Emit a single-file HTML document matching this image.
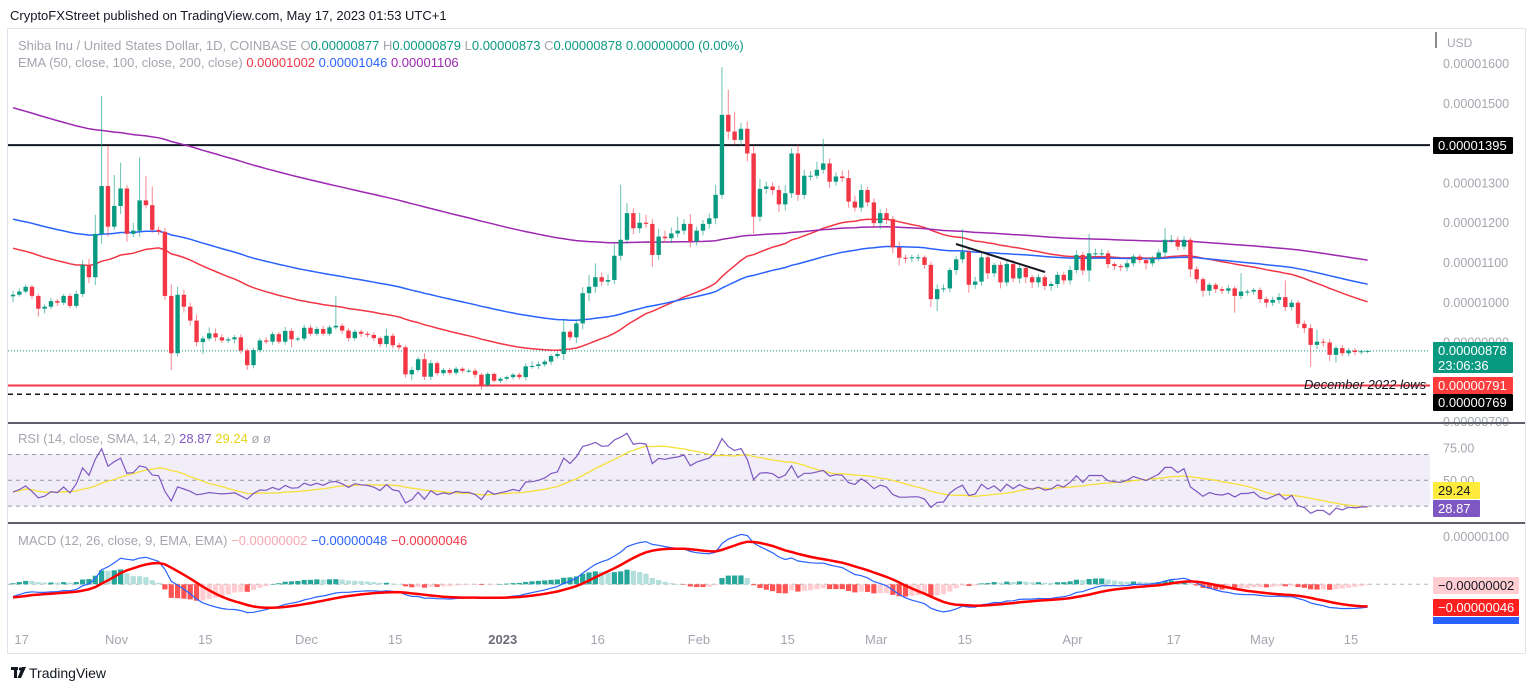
<!DOCTYPE html>
<html><head><meta charset="utf-8"><style>
html,body{margin:0;padding:0;background:#fff;}
svg{display:block;font-family:"Liberation Sans",sans-serif;}
</style></head><body>
<svg id="chart" width="1536" height="691" viewBox="0 0 1536 691" xmlns="http://www.w3.org/2000/svg">
<rect x="0" y="0" width="1536" height="691" fill="#ffffff"/>
<text x="10" y="20" font-size="13" fill="#131722">CryptoFXStreet published on TradingView.com, May 17, 2023 01:53 UTC+1</text>
<rect x="7.5" y="28.5" width="1518" height="625" fill="none" stroke="#e0e3eb"/>
<g id="rsiband"></g>
<g id="grid"></g>
<g id="ema"></g>
<g id="candles"></g>
<g id="rsi"></g>
<g id="macd"></g>
<g id="axis"></g>
<line x1="8" y1="423" x2="1525" y2="423" stroke="#5d606b" stroke-width="2"/>
<line x1="8" y1="523" x2="1525" y2="523" stroke="#5d606b" stroke-width="2"/>
<line x1="956" y1="244" x2="1045" y2="272" stroke="#131722" stroke-width="2"/>
<g font-size="13">
<text x="18" y="50"><tspan fill="#a3a6af">Shiba Inu / United States Dollar, 1D, COINBASE  O</tspan><tspan fill="#089981">0.00000877 </tspan><tspan fill="#a3a6af"> H</tspan><tspan fill="#089981">0.00000879 </tspan><tspan fill="#a3a6af"> L</tspan><tspan fill="#089981">0.00000873 </tspan><tspan fill="#a3a6af"> C</tspan><tspan fill="#089981">0.00000878  0.00000000 (0.00%)</tspan></text>
<text x="18" y="67"><tspan fill="#a3a6af">EMA (50, close, 100, close, 200, close) </tspan><tspan fill="#f23645">0.00001002 </tspan><tspan fill="#2962ff"> 0.00001046 </tspan><tspan fill="#9c27b0"> 0.00001106</tspan></text>
</g>
<text x="18" y="443" font-size="13"><tspan fill="#a3a6af">RSI (14, close, SMA, 14, 2) </tspan><tspan fill="#7e57c2">28.87 </tspan><tspan fill="#e6d21a"> 29.24 </tspan><tspan fill="#a3a6af"> ø  ø</tspan></text>
<text x="18" y="545" font-size="13"><tspan fill="#a3a6af">MACD (12, 26, close, 9, EMA, EMA) </tspan><tspan fill="#f7a8b0">−0.00000002 </tspan><tspan fill="#2962ff"> −0.00000048 </tspan><tspan fill="#f23645"> −0.00000046</tspan></text>
<line x1="1436" y1="32" x2="1436" y2="48" stroke="#131722"/>
<text x="1447" y="47" font-size="12" fill="#a3a6af">USD</text>
<text x="1304" y="389" font-size="13" font-style="italic" fill="#131722">December 2022 lows</text>
<g>
<rect x="11" y="667" width="7" height="3" fill="#131722"/><rect x="14" y="667" width="3" height="11" fill="#131722"/>
<circle cx="20.5" cy="669" r="1.6" fill="#131722"/><polygon points="22,667 26,667 21,678 17.5,678" fill="#131722"/>
<text x="29" y="678" font-size="14" fill="#131722">TradingView</text>
</g>
</svg>
<script>
const closes=[1019,1027,1039,1016,984,989,1003,999,1016,991,
1021,1094,1063,1172,1292,1190,1242,1286,1172,1180,
1256,1244,1182,1177,1016,872,1019,989,954,900,
909,922,912,904,907,912,879,842,880,904,
901,920,901,928,907,909,936,921,933,921,
937,941,929,910,926,921,918,910,895,916,
892,887,819,830,857,813,847,822,830,823,
833,828,828,818,792,820,803,808,812,818,
812,839,840,844,851,865,870,926,912,947,
1023,1039,1063,1052,1056,1117,1157,1224,1186,1200,
1197,1119,1165,1161,1173,1180,1197,1153,1180,1197,
1211,1270,1471,1429,1408,1436,1374,1215,1285,1291,
1282,1246,1274,1374,1270,1318,1318,1333,1349,1303,
1316,1312,1253,1238,1282,1251,1199,1224,1209,1138,
1112,1111,1113,1113,1094,1008,1033,1035,1081,1108,
1127,1044,1052,1113,1073,1094,1050,1096,1060,1086,
1063,1050,1063,1041,1046,1069,1055,1081,1119,1080,
1123,1123,1123,1096,1091,1088,1098,1115,1106,1098,
1111,1125,1157,1157,1140,1157,1083,1058,1029,1044,
1033,1029,1035,1016,1027,1027,1031,1008,999,1006,
1013,988,999,946,935,893,901,899,868,885,
872,879,875,877,878];
const upWick=[10,8,6,5,6,6,8,5,5,6,
8,12,15,48,227,101,78,65,8,20,
108,62,47,8,10,29,20,12,10,15,
6,15,12,8,6,6,8,5,6,6,
8,6,6,10,6,5,8,6,6,8,
6,75,6,6,6,5,6,6,4,18,
6,6,5,8,6,15,8,5,5,5,
5,4,5,6,5,5,4,4,4,5,
5,8,12,8,5,5,6,30,5,10,
15,30,35,12,15,30,138,25,12,25,
20,12,20,15,15,35,12,25,10,10,
12,25,120,63,50,15,18,20,25,12,
10,12,20,13,21,15,12,20,62,12,
10,15,20,15,15,8,10,10,12,8,
15,8,6,8,5,8,12,10,6,8,
57,6,12,10,8,6,8,12,10,8,
8,6,8,6,6,8,8,10,12,8,
49,12,10,8,5,6,8,6,6,5,
6,8,29,12,8,10,6,8,5,6,
5,6,8,6,46,5,5,6,6,8,
10,42,8,6,8,10,30,8,8,6,
8,6,6,4,1];
const dnWick=[15,5,5,8,20,12,6,8,6,6,
6,8,15,20,25,25,8,20,20,8,
15,8,8,8,10,42,8,15,12,10,
30,6,10,6,6,10,8,12,8,6,
6,8,6,8,20,6,6,6,5,5,
6,5,8,8,6,8,6,8,8,8,
8,6,8,15,6,8,8,6,6,6,
6,5,5,8,12,5,5,6,5,6,
6,8,6,8,6,8,6,15,8,15,
15,20,15,10,10,10,12,10,15,12,
10,30,12,10,12,10,10,15,10,12,
12,15,10,20,12,15,20,43,12,12,
12,20,15,12,15,10,12,8,10,15,
10,10,15,10,10,10,12,15,12,15,
20,12,10,10,10,20,30,8,10,12,
10,20,10,10,15,10,15,10,10,12,
15,15,12,10,12,10,10,10,8,12,
28,10,8,10,10,10,10,8,8,15,
8,8,10,8,10,8,20,10,15,12,
10,8,8,42,8,10,8,10,12,8,
10,10,8,10,12,55,10,10,15,19,
8,8,8,6,5];
const firstOpen=1015;
const emaPeriods=[50,100,200];
const emaStart=[1136,1209,1489];
const emaColors=['#f23645','#2962ff','#9c27b0'];
const priceTicks=[1600,1500,1300,1200,1100,1000,900,700];
const priceTickLabels=['0.00001600','0.00001500','0.00001300','0.00001200','0.00001100','0.00001000','0.00000900','0.00000700'];
const tickIdx=[2,17,31,47,61,78,93,109,123,137,151,168,184,198,212];
const tickLabels=['17','Nov','15','Dec','15','2023','16','Feb','15','Mar','15','Apr','17','May','15'];
const levels=[1395,791,769];
const rsiSeed=[8,12];
const macdSeed=[1000,1029,-28];

const NS='http://www.w3.org/2000/svg';
function mk(tag,attrs,parent){const e=document.createElementNS(NS,tag);for(const k in attrs)e.setAttribute(k,attrs[k]);parent.appendChild(e);return e;}
const X=i=>13+i*6.33;
const Y=p=>103.3+(1500-p)*0.398;
const RY=r=>480.3-(r-50)*1.29;
const MY=m=>584.3-m*0.476;
const gC=document.getElementById('candles'),gE=document.getElementById('ema'),gG=document.getElementById('grid'),gA=document.getElementById('axis'),gR=document.getElementById('rsi'),gM=document.getElementById('macd'),gB=document.getElementById('rsiband');
const N=closes.length;

// horizontal levels
let el;
el=mk('line',{x1:8,x2:1430,y1:Y(levels[0]),y2:Y(levels[0]),stroke:'#131722','stroke-width':2},gG);


el=mk('line',{x1:8,x2:1430,y1:Y(levels[1]),y2:Y(levels[1]),stroke:'#f23645','stroke-width':2},gG);


el=mk('line',{x1:8,x2:1430,y1:Y(levels[2]),y2:Y(levels[2]),stroke:'#131722','stroke-width':1.5,'stroke-dasharray':'5,4'},gG);


el=mk('line',{x1:8,x2:1430,y1:Y(closes[N-1]),y2:Y(closes[N-1]),stroke:'#089981','stroke-width':1,'stroke-dasharray':'1,2'},gG);



// EMAs
emaPeriods.forEach((n,k)=>{const a=2/(n+1);let v=emaStart[k];let d='';
 for(let i=0;i<N;i++){if(i>0)v=closes[i]*a+v*(1-a);d+=(i?'L':'M')+X(i).toFixed(1)+','+Y(v).toFixed(1);}
 el=mk('path',{d:d,fill:'none',stroke:emaColors[k],'stroke-width':1.5},gE);
 
 
});

// candles
for(let i=0;i<N;i++){const o=i?closes[i-1]:firstOpen,c=closes[i];const up=c>=o;const col=up?'#089981':'#f23645';
 const hi=Math.max(o,c)+upWick[i],lo=Math.min(o,c)-dnWick[i];
 el=mk('line',{x1:X(i),x2:X(i),y1:Y(hi),y2:Y(lo),stroke:col,'stroke-opacity':0.6,'stroke-width':1},gC);
 
 
 const yt=Y(Math.max(o,c)),yb=Y(Math.min(o,c));
 el=mk('rect',{x:X(i)-2.2,y:yt,width:4.4,height:Math.max(1,yb-yt),fill:col},gC);
 
 
}

// RSI
el=mk('rect',{x:8,y:RY(70),width:1422,height:RY(30)-RY(70),fill:'#7e57c2','fill-opacity':0.1},gB);


[70,50,30].forEach(r=>{el=mk('line',{x1:8,x2:1430,y1:RY(r),y2:RY(r),stroke:'#9598a1','stroke-dasharray':'4,4','stroke-width':1},gB);
 
 });
let ag=rsiSeed[0],al=rsiSeed[1];const rsi=[];
for(let i=0;i<N;i++){const prev=i?closes[i-1]:firstOpen;const ch=closes[i]-prev;ag=(ag*13+Math.max(ch,0))/14;al=(al*13+Math.max(-ch,0))/14;rsi.push(100-100/(1+ag/(al||1e-9)));}
let dR='',dS='';
for(let i=0;i<N;i++){const s=rsi.slice(Math.max(0,i-13),i+1);const m=s.reduce((a,b)=>a+b,0)/s.length;
 dR+=(i?'L':'M')+X(i).toFixed(1)+','+RY(rsi[i]).toFixed(1);dS+=(i?'L':'M')+X(i).toFixed(1)+','+RY(m).toFixed(1);}
el=mk('path',{d:dS,fill:'none',stroke:'#f5e03a','stroke-width':1.3},gR);


el=mk('path',{d:dR,fill:'none',stroke:'#7e57c2','stroke-width':1.2},gR);



// MACD
el=mk('line',{x1:8,x2:1430,y1:MY(0),y2:MY(0),stroke:'#b2b5be','stroke-dasharray':'4,4'},gM);


let e12=macdSeed[0],e26=macdSeed[1],sig=macdSeed[2];const mac=[],sg=[];
for(let i=0;i<N;i++){e12=closes[i]*2/13+e12*11/13;e26=closes[i]*2/27+e26*25/27;const m=e12-e26;sig=m*0.2+sig*0.8;mac.push(m);sg.push(sig);}
let ph=mac[0]-sg[0];let dM='',dG='';
for(let i=0;i<N;i++){const h=mac[i]-sg[i];let col;
 if(h>=0)col=h>=ph?'#26a69a':'#b2dfdb';else col=h<ph?'#ff5252':'#ffcdd2';ph=h;
 const y0=MY(0),y1=MY(h);
 el=mk('rect',{x:X(i)-2.6,y:Math.min(y0,y1),width:5.2,height:Math.max(0.5,Math.abs(y1-y0)),fill:col},gM);
 
 
 dM+=(i?'L':'M')+X(i).toFixed(1)+','+MY(mac[i]).toFixed(1);dG+=(i?'L':'M')+X(i).toFixed(1)+','+MY(sg[i]).toFixed(1);}
el=mk('path',{d:dM,fill:'none',stroke:'#2962ff','stroke-width':1.2},gM);


el=mk('path',{d:dG,fill:'none',stroke:'#ff0000','stroke-width':2.5},gM);



// axes
priceTicks.forEach((p,k)=>{el=mk('text',{x:1443,y:Y(p)+4.5,'font-size':12.5,fill:'#a3a6af'},gA);el.textContent=priceTickLabels[k];
 
 });
tickIdx.forEach((t,k)=>{el=mk('text',{x:X(t)-4,y:644,'font-size':13,fill:tickLabels[k]==='2023'?'#6a6d78':'#a3a6af','font-weight':tickLabels[k]==='2023'?'bold':'normal','text-anchor':'middle'},gA);el.textContent=tickLabels[k];
 
 });
el=mk('text',{x:1443,y:RY(75)+4.5,'font-size':12.5,fill:'#a3a6af'},gA);el.textContent='75.00';


el=mk('text',{x:1443,y:RY(50)+4.5,'font-size':12.5,fill:'#a3a6af'},gA);el.textContent='50.00';


el=mk('text',{x:1443,y:MY(100)+4.5,'font-size':12.5,fill:'#a3a6af'},gA);el.textContent='0.00000100';



// value badges
function badge(name,y,h,w,bg,fg,txt,txt2){const g=mk('g',{},gA);
 
 
 mk('rect',{x:1433,y:y,width:w,height:h,fill:bg,rx:1},g);
 const t=mk('text',{x:1438,y:y+13,'font-size':13,fill:fg},g);t.textContent=txt;
 if(txt2){const t2=mk('text',{x:1438,y:y+28,'font-size':13,fill:fg},g);t2.textContent=txt2;}}
badge('badge-1395',137,17,80,'#000000','#ffffff','0.00001395');
badge('badge-last-price',342,31,80,'#089981','#ffffff','0.00000878','23:06:36');
badge('badge-791',377,17,80,'#ff3b3b','#ffffff','0.00000791');
badge('badge-769',394,17,80,'#000000','#ffffff','0.00000769');
badge('badge-rsi-sma',482,17,47,'#ffeb3b','#131722','29.24');
badge('badge-rsi',500,17,47,'#7e57c2','#ffffff','28.87');
badge('badge-macd-hist',577,17,86,'#ffcdd2','#131722','−0.00000002');
badge('badge-macd-signal',599,17,86,'#ff1f1f','#ffffff','−0.00000046');
el=mk('rect',{x:1433,y:617,width:86,height:7,fill:'#2962ff'},gA);


</script>
</body></html>
